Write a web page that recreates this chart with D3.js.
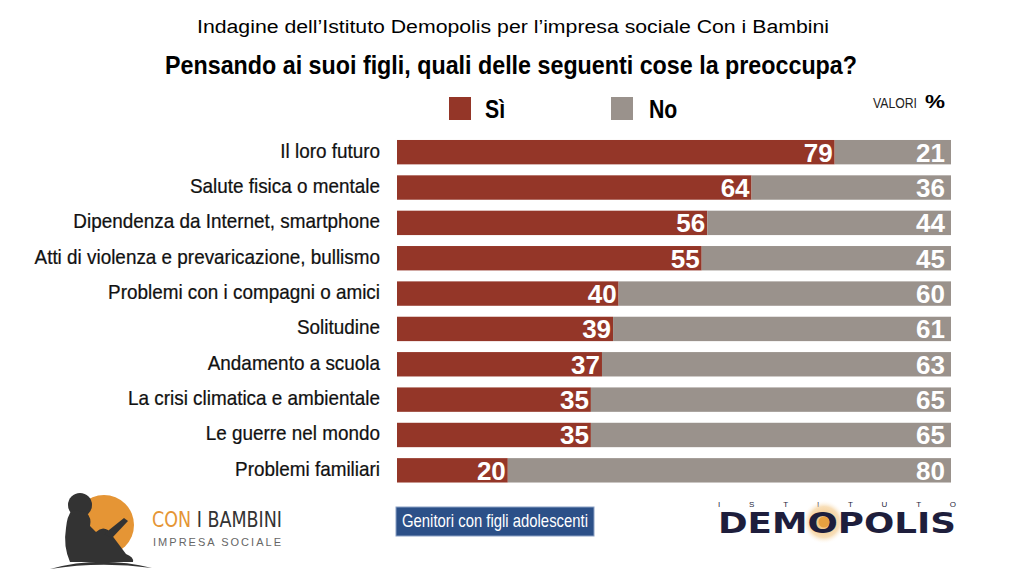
<!DOCTYPE html>
<html>
<head>
<meta charset="utf-8">
<style>
  body { margin: 0; background: #fff; }
  svg text { font-family: "Liberation Sans", Arial, sans-serif; }
</style>
</head>
<body>
<div id="chart"></div>
<script src="https://d3js.org/d3.v7.min.js"></script>
<script>
var categories = [
  "Il loro futuro",
  "Salute fisica o mentale",
  "Dipendenza da Internet, smartphone",
  "Atti di violenza e prevaricazione, bullismo",
  "Problemi con i compagni o amici",
  "Solitudine",
  "Andamento a scuola",
  "La crisi climatica e ambientale",
  "Le guerre nel mondo",
  "Problemi familiari"
];
var si = [79, 64, 56, 55, 40, 39, 37, 35, 35, 20];
var no = [21, 36, 44, 45, 60, 61, 63, 65, 65, 80];
var seriesNames = ["Sì", "No"];

var W = 1024, H = 576;
var red = "#943628", grey = "#9a928c";

var svg = d3.select("#chart").append("svg")
  .attr("width", W).attr("height", H);

// titles
svg.append("text")
  .attr("x", 513).attr("y", 33)
  .attr("text-anchor", "middle")
  .style("font-size", "18px")
  .attr("textLength", 632).attr("lengthAdjust", "spacingAndGlyphs")
  .text("Indagine dell’Istituto Demopolis per l’impresa sociale Con i Bambini");

svg.append("text")
  .attr("x", 511).attr("y", 74)
  .attr("text-anchor", "middle")
  .style("font-size", "26px").style("font-weight", "bold")
  .attr("textLength", 692).attr("lengthAdjust", "spacingAndGlyphs")
  .text("Pensando ai suoi figli, quali delle seguenti cose la preoccupa?");

var x = d3.scaleLinear().domain([0, 100]).range([397, 951]);
var y = d3.scaleBand().domain(categories).range([134.5, 488]).paddingInner(0.31).paddingOuter(0.155);

var rows = categories.map(function(c, i) { return {cat: c, si: si[i], no: no[i]}; });

// legend
var leg = svg.append("g");
[[449, 485, red], [611, 649, grey]].forEach(function(d, i) {
  leg.append("rect").attr("x", d[0]).attr("y", 97).attr("width", 22).attr("height", 23).attr("fill", d[2]);
  leg.append("g").attr("transform", "translate(" + d[1] + ",118) scale(0.85,1)")
    .append("text")
    .style("font-size", "25px").style("font-weight", "bold")
    .text(seriesNames[i]);
});
leg.append("text").attr("x", 873).attr("y", 108)
  .style("font-size", "14px").attr("fill", "#222")
  .attr("textLength", 44).attr("lengthAdjust", "spacingAndGlyphs")
  .text("VALORI");
leg.append("text").attr("x", 945).attr("y", 108).attr("text-anchor", "end")
  .style("font-size", "19px").style("font-weight", "bold")
  .attr("textLength", 20).attr("lengthAdjust", "spacingAndGlyphs")
  .text("%");

// bars
var g = svg.append("g").selectAll("g").data(rows).enter().append("g");

g.append("rect")
  .attr("x", x(0)).attr("y", function(d) { return y(d.cat); })
  .attr("width", function(d) { return x(d.si) - x(0); })
  .attr("height", y.bandwidth()).attr("fill", red);

g.append("rect")
  .attr("x", function(d) { return x(d.si); }).attr("y", function(d) { return y(d.cat); })
  .attr("width", function(d) { return x(d.si + d.no) - x(d.si); })
  .attr("height", y.bandwidth()).attr("fill", grey);

g.append("text")
  .attr("x", function(d) { return x(d.si) - 2; })
  .attr("y", function(d) { return y(d.cat) + y.bandwidth() / 2 + 9.5; })
  .attr("text-anchor", "end").attr("fill", "#fff")
  .style("font-size", "26px").style("font-weight", "bold")
  .text(function(d) { return d.si; });

g.append("text")
  .attr("x", function(d) { return x(d.si + d.no) - 6; })
  .attr("y", function(d) { return y(d.cat) + y.bandwidth() / 2 + 9.5; })
  .attr("text-anchor", "end").attr("fill", "#fff")
  .style("font-size", "26px").style("font-weight", "bold")
  .text(function(d) { return d.no; });

g.append("g")
  .attr("transform", function(d) { return "translate(380," + (y(d.cat) + y.bandwidth() / 2 + 5.5) + ") scale(0.9,1)"; })
  .append("text")
  .attr("text-anchor", "end").attr("fill", "#111")
  .attr("stroke", "#111").attr("stroke-width", 0.25)
  .style("font-size", "21px")
  .text(function(d) { return d.cat; });

// footer: sample box
svg.append("rect").attr("x", 396).attr("y", 507).attr("width", 198).attr("height", 29)
  .attr("fill", "#2c5088").attr("stroke", "#8aa0c4").attr("stroke-width", 1);
svg.append("text").attr("x", 402).attr("y", 527)
  .attr("fill", "#fff").style("font-size", "19px")
  .attr("textLength", 186).attr("lengthAdjust", "spacingAndGlyphs")
  .text("Genitori con figli adolescenti");

// Con i Bambini logo
var logo = svg.append("g");
logo.append("circle").attr("cx", 104).attr("cy", 525).attr("r", 30).attr("fill", "#e59535");
logo.append("path").attr("fill", "#333")
  .attr("d", "M50,569 Q100,555 152,568 Q100,561 50,569 Z");
logo.append("circle").attr("cx", 80).attr("cy", 505).attr("r", 12).attr("fill", "#333");
logo.append("path").attr("fill", "#333")
  .attr("d", "M72,510 L86,512 Q92,518 90,526 L96,532 Q102,526 108,530 L126,554 Q134,557 133,562 L70,562 Q63,546 66,528 Q67,516 72,510 Z");
logo.append("path").attr("fill", "#333")
  .attr("d", "M104,534 L124,518 L128,521 L112,538 Z");
logo.append("text").attr("x", 152).attr("y", 527)
  .style("font-family", "DejaVu Sans Condensed, DejaVu Sans, sans-serif")
  .style("font-size", "21px").attr("textLength", 130).attr("lengthAdjust", "spacingAndGlyphs")
  .call(function(t) {
    t.append("tspan").attr("fill", "#e59535").text("CON ");
    t.append("tspan").attr("fill", "#333").text("I BAMBINI");
  });
logo.append("text").attr("x", 153).attr("y", 546)
  .attr("fill", "#666").style("font-size", "11px")
  .attr("textLength", 128).attr("lengthAdjust", "spacing")
  .text("IMPRESA SOCIALE");

// Demopolis logo
var dem = svg.append("g");
dem.append("text").attr("x", 718).attr("y", 507)
  .attr("fill", "#1e1e3c").style("font-size", "8px")
  .attr("textLength", 238).attr("lengthAdjust", "spacing")
  .text("ISTITUTO");
var glow = svg.append("defs").append("radialGradient").attr("id", "glow");
glow.append("stop").attr("offset", "0%").attr("stop-color", "#f0a84a").attr("stop-opacity", 0.9);
glow.append("stop").attr("offset", "70%").attr("stop-color", "#f3c98a").attr("stop-opacity", 0.6);
glow.append("stop").attr("offset", "100%").attr("stop-color", "#fff").attr("stop-opacity", 0);
dem.append("circle").attr("cx", 824).attr("cy", 522).attr("r", 22).attr("fill", "url(#glow)");
dem.append("text").attr("x", 718).attr("y", 533)
  .attr("fill", "#1e1e3c")
  .style("font-family", "DejaVu Sans, sans-serif")
  .style("font-size", "28px").style("font-weight", "bold")
  .attr("textLength", 238).attr("lengthAdjust", "spacingAndGlyphs")
  .text("DEMOPOLIS");
dem.append("circle").attr("cx", 824).attr("cy", 522).attr("r", 5.5).attr("fill", "#e8a040");
</script>
</body>
</html>
